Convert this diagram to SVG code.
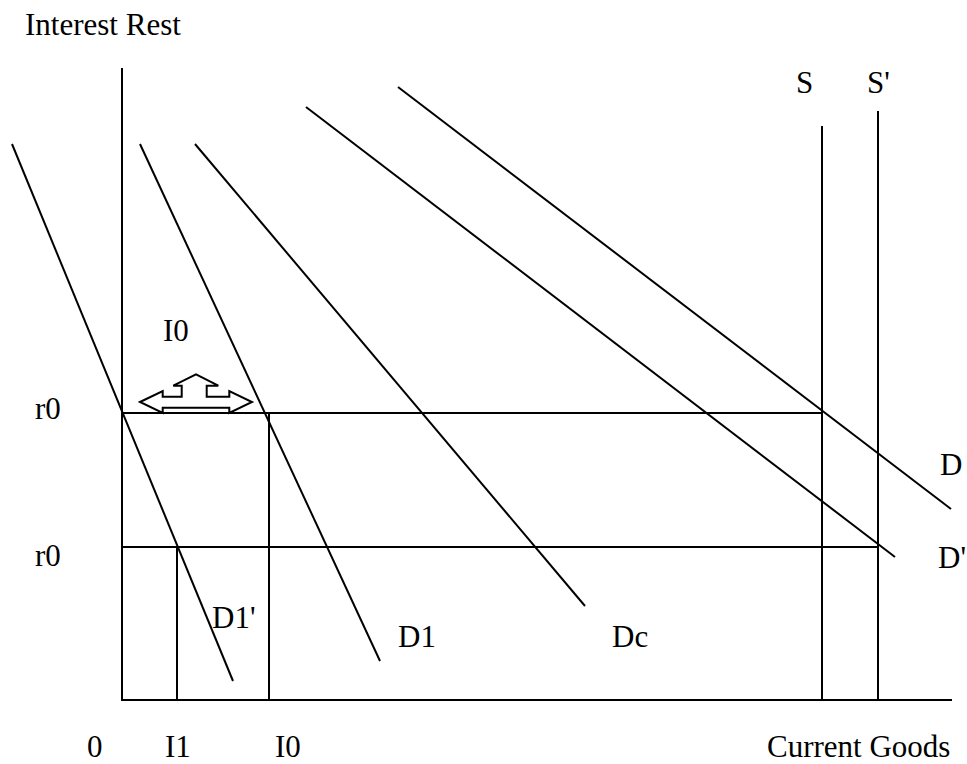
<svg xmlns="http://www.w3.org/2000/svg" width="967" height="764" viewBox="0 0 967 764">
<style>
.ln{stroke:#000;stroke-width:2;fill:none}
.t{font-family:"Liberation Serif","Times New Roman",serif;font-size:31px;fill:#000}
</style>
<rect width="967" height="764" fill="#fff"/>
<g id="axes">
<line class="ln" x1="122" y1="68" x2="122" y2="700"/>
<line class="ln" x1="121" y1="700" x2="952" y2="700"/>
</g>
<g id="connectors">
<line class="ln" x1="122" y1="413" x2="822" y2="413"/>
<line class="ln" x1="122" y1="547" x2="878" y2="547"/>
<line class="ln" x1="269" y1="413" x2="269" y2="700"/>
<line class="ln" x1="177" y1="547" x2="177" y2="700"/>
<line class="ln" x1="822" y1="126" x2="822" y2="700"/>
<line class="ln" x1="878" y1="111" x2="878" y2="700"/>
<line class="ln" x1="12" y1="144" x2="233" y2="681"/>
<line class="ln" x1="140" y1="144" x2="380" y2="661"/>
<line class="ln" x1="195" y1="144" x2="585" y2="606"/>
<line class="ln" x1="306" y1="107" x2="895" y2="557"/>
<line class="ln" x1="398" y1="87" x2="951" y2="509"/>
</g>
<g id="arrow">
<polygon class="ln" points="140,402 162.7,391 162.7,396.7 181.7,396.7 181.7,385.7 173.3,385.7 196,374.3 218.3,385.7 206.7,385.7 206.7,396.7 229.3,396.7 229.3,391 252,402 229.3,413 229.3,407.7 162.7,407.7 162.7,413" fill="#fff"/>
</g>
<g id="labels">
<text class="t" x="25" y="35">Interest Rest</text>
<text class="t" x="796" y="93">S</text>
<text class="t" x="867" y="93">S'</text>
<text class="t" x="163" y="341">I0</text>
<text class="t" x="35" y="419">r0</text>
<text class="t" x="35" y="566">r0</text>
<text class="t" x="940" y="475">D</text>
<text class="t" x="938" y="568">D'</text>
<text class="t" x="212" y="628">D1'</text>
<text class="t" x="398" y="647">D1</text>
<text class="t" x="612" y="647">Dc</text>
<text class="t" x="87" y="757">0</text>
<text class="t" x="165" y="757">I1</text>
<text class="t" x="275" y="757">I0</text>
<text class="t" x="767" y="757">Current Goods</text>
</g>
</svg>
